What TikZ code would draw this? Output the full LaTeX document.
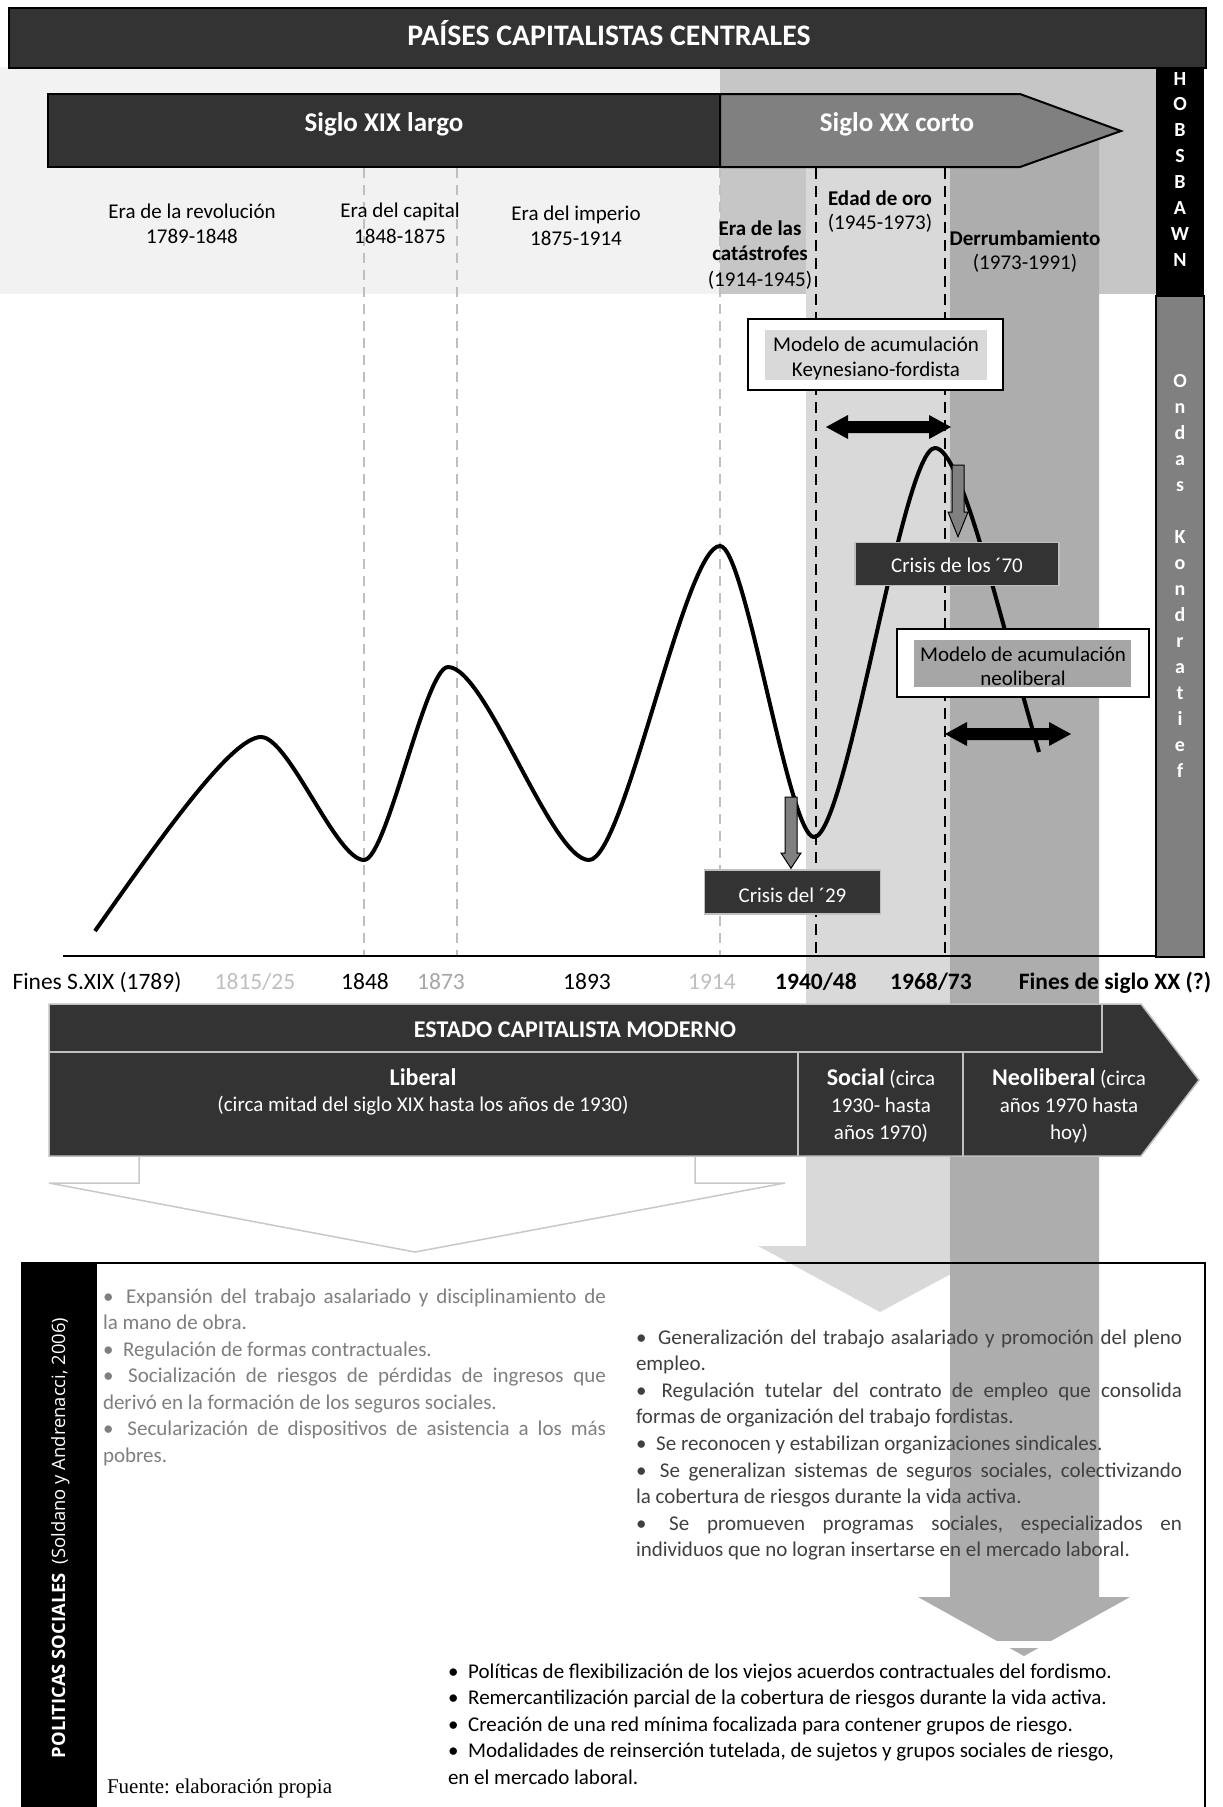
\documentclass[tikz,border=0pt]{standalone}
\usepackage{fontspec}
\setmainfont{Carlito}
\newfontfamily\opensans{Open Sans}
\newfontfamily\serifnote{Liberation Serif}
\usetikzlibrary{calc}
\frenchspacing

\definecolor{paleband}{HTML}{F2F2F2}
\definecolor{periodgray}{HTML}{C6C6C6}
\definecolor{goldband}{HTML}{D9D9D9}
\definecolor{crashband}{HTML}{ADADAD}
\definecolor{darkfill}{HTML}{333333}
\definecolor{midgray}{HTML}{808080}
\definecolor{edgegray}{HTML}{BFBFBF}
\definecolor{calloutgray}{HTML}{C8C8C8}
\definecolor{neogray}{HTML}{A6A6A6}
\definecolor{listone}{HTML}{7F7F7F}
\definecolor{listtwo}{HTML}{404040}
\definecolor{axislight}{HTML}{BFBFBF}
\definecolor{axismid}{HTML}{A6A6A6}

\newcommand\fsz[2]{\fontsize{#1}{#2}\selectfont}
\newcommand\bul{•\hspace{5pt} }
% black double-headed block arrow: left x, right x, y
\newcommand\dblarrow[3]{\fill[black] (#1,#3) -- ++(22,-12) -- ++(0,6) -- (#2-22,#3-6) -- ++(0,-6) -- (#2,#3) -- ++(-22,12) -- ++(0,-6) -- (#1+22,#3+6) -- ++(0,6) -- cycle;}

\begin{document}
\begin{tikzpicture}[x=1pt,y=-1pt,
  txt/.style={inner sep=0pt,outer sep=0pt},
  crisis/.style={fill=darkfill,draw=edgegray,line width=1.5,text=white,inner sep=0pt,font=\fsz{21}{25}},
  blockarrow/.style={fill=midgray,draw=black,line width=1},
  graydash/.style={draw=edgegray,line width=1.5,dash pattern=on 10pt off 7pt},
  blackdash/.style={draw=black,line width=2.2,dash pattern=on 11pt off 7pt},
  axislabel/.style={txt,anchor=base,font=\fsz{23.5}{26}}]

\useasboundingbox (0,0) rectangle (1223,1807);
\fill[white] (0,0) rectangle (1223,1807);

% period strip behind the century arrows
\fill[paleband] (0,67) rectangle (720,294);
\fill[periodgray] (720,67) rectangle (1156,294);

% golden-age and collapse bands, ending as downward arrows
\fill[goldband] (806,131) -- (950,131) -- (950,1246) -- (1003,1246) -- (880,1312) -- (758,1246) -- (806,1246) -- cycle;
\fill[crashband] (950,131) -- (1099,131) -- (1099,1597) -- (1130,1597) -- (1024,1656) -- (918,1597) -- (950,1597) -- cycle;
\fill[white] (900,1641) rectangle (1150,1648);

% title banner
\draw[fill=darkfill,line width=1.5] (9,8) rectangle (1206,68);
\node[txt,anchor=base,text=white] (title) at (609,45) {\fsz{29.8}{32}\bfseries PAÍSES CAPITALISTAS CENTRALES};

% side columns
\fill[black] (1156,68) rectangle (1204,296);
\node[txt,anchor=base,text=white] (hobs) at (1180,85)
  {\parbox[t]{40pt}{\centering\fsz{20}{25.86}\bfseries H\\O\\B\\S\\B\\A\\W\\N}};
\draw[fill=midgray,line width=1.5] (1156,296) rectangle (1204,957);
\node[txt,anchor=base,text=white] (kond) at (1180,387)
  {\parbox[t]{40pt}{\centering\fsz{20}{26}\bfseries O\\n\\d\\a\\s\\\mbox{}\\K\\o\\n\\d\\r\\a\\t\\i\\e\\f}};

% century arrows
\draw[fill=darkfill,line width=2] (48,94) rectangle (720,167);
\draw[fill=midgray,line width=2] (720,94) -- (1020,94) -- (1121,131) -- (1020,167) -- (720,167) -- cycle;
\node[txt,anchor=base,text=white] (s19) at (384,131) {\fsz{27}{30}\bfseries Siglo XIX largo};
\node[txt,anchor=base,text=white] (s20) at (897,131) {\fsz{27}{30}\bfseries Siglo XX corto};

% period dividers
\foreach \x in {364,457,720} \draw[graydash] (\x,168) -- (\x,955);
\foreach \x in {816,945} \draw[blackdash] (\x,168) -- (\x,955);

% period names
\node[txt,anchor=base] (era1) at (192,218) {\parbox[t]{240pt}{\centering\fsz{21}{25}Era de la revolución\\1789-1848}};
\node[txt,anchor=base] (era2) at (400,217) {\parbox[t]{200pt}{\centering\fsz{21}{26}Era del capital\\1848-1875}};
\node[txt,anchor=base] (era3) at (576,220) {\parbox[t]{200pt}{\centering\fsz{21}{25}Era del imperio\\1875-1914}};
\node[txt,anchor=base] (era4) at (760,235) {\parbox[t]{160pt}{\centering\fsz{21}{25.5}\textbf{Era de las}\\\textbf{catástrofes}\\(1914-1945)}};
\node[txt,anchor=base] (era5) at (880,205) {\parbox[t]{160pt}{\centering\fsz{21}{24}\textbf{Edad de oro}\\(1945-1973)}};
\node[txt,anchor=base] (era6) at (1025,245) {\parbox[t]{180pt}{\centering\fsz{21}{24.5}\textbf{Derrumbamiento}\\(1973-1991)}};

% long waves
\draw[line width=4,line join=round]
  (95,931) .. controls (164,833) and (232,737) .. (261,737)
  .. controls (288.8,737) and (336.2,860) .. (364,860)
  .. controls (386.7,860) and (425.3,667) .. (448,667)
  .. controls (486,667) and (551,860) .. (589,860)
  .. controls (624.4,860) and (684.6,546) .. (720,546)
  .. controls (745.4,546) and (788.6,837) .. (814,837)
  .. controls (846.7,837) and (902.3,448) .. (935,448)
  .. controls (961,448) and (997,608) .. (1039,752);

% accumulation models
\draw[fill=white,line width=2] (748,319) rectangle (1003,390);
\fill[goldband] (765,330) rectangle (987,380);
\node[txt,anchor=base] (keyn) at (876,351) {\parbox[t]{240pt}{\centering\fsz{21}{25}Modelo de acumulación\\Keynesiano-fordista}};
\draw[fill=white,line width=2] (897,629) rectangle (1149,697);
\fill[neogray] (914,640) rectangle (1131,687);
\node[txt,anchor=base] (neol) at (1023,661) {\parbox[t]{240pt}{\centering\fsz{21}{24}Modelo de acumulación\\neoliberal}};

\dblarrow{826}{951}{427}
\dblarrow{945}{1071}{734}

% crises
\node[crisis,minimum width=176,minimum height=44,text height=20,text depth=0] (c29) at (792.5,892) {Crisis del ´29};
\node[crisis,minimum width=204,minimum height=43,text height=17,text depth=0] (c70) at (957,564) {Crisis de los ´70};
\draw[blockarrow] (785,797) -- (797,797) -- (797,853) -- (801,853) -- ([xshift=-1.5pt,yshift=1pt]c29.north) -- (781,853) -- (785,853) -- cycle;
\draw[blockarrow] (952,465) -- (964,465) -- (964,512) -- (968,512) -- ([xshift=1pt,yshift=5pt]c70.north) -- (948,512) -- (952,512) -- cycle;

% time axis
\draw[line width=2.2] (63,956) -- (1156,956);
\node[axislabel] (t0) at (97,989) {Fines S.XIX (1789)};
\node[axislabel,text=axislight] (t1) at (255,989) {1815/25};
\node[axislabel] (t2) at (365,989) {1848};
\node[axislabel,text=axismid] (t3) at (441,989) {1873};
\node[axislabel] (t4) at (587,989) {1893};
\node[axislabel,text=axislight] (t5) at (712,989) {1914};
\node[axislabel,font=\fsz{23.5}{26}\bfseries] (t6) at (816,989) {1940/48};
\node[axislabel,font=\fsz{23.5}{26}\bfseries] (t7) at (931,989) {1968/73};
\node[axislabel,font=\fsz{23.5}{26}\bfseries] (t8) at (1115,989) {Fines de siglo XX (?)};

% modern capitalist state
\draw[fill=darkfill,draw=edgegray,line width=1.5] (49,1004) -- (1141,1004) -- (1199,1080) -- (1141,1156) -- (49,1156) -- cycle;
\draw[edgegray,line width=1.5] (49,1052) -- (1102,1052) -- (1102,1004);
\draw[edgegray,line width=1.5] (798,1052) -- (798,1156);
\draw[edgegray,line width=1.5] (963,1052) -- (963,1156);
\node[txt,anchor=base,text=white] (estado) at (575,1037) {\fsz{24}{26}\bfseries ESTADO CAPITALISTA MODERNO};
\node[txt,anchor=base,text=white] (liberal) at (423,1085)
  {\parbox[t]{600pt}{\centering\fsz{21}{26}{\fsz{24}{26}\bfseries Liberal}\\(circa mitad del siglo XIX hasta los años de 1930)}};
\node[txt,anchor=base,text=white] (social) at (881,1085)
  {\parbox[t]{160pt}{\centering\fsz{21}{27}{\fsz{24}{27}\bfseries Social} (circa\\1930- hasta\\años 1970)}};
\node[txt,anchor=base,text=white] (neolib) at (1069,1085)
  {\parbox[t]{200pt}{\centering\fsz{21}{27}{\fsz{24}{27}\bfseries Neoliberal} (circa\\años 1970 hasta\\hoy)}};

% outline arrow under the liberal state
\draw[calloutgray,line width=1.5] (139,1157) -- (139,1183) -- (49,1183) -- (415,1252) -- (785,1183) -- (695,1183) -- (695,1157);

% social policies frame
\fill[black] (21,1263) rectangle (97,1810);
\draw[line width=2] (21,1263) -- (1205,1263) -- (1205,1810);
\node[txt,rotate=90,anchor=base west,text=white] (poltitle) at (65,1758)
  {\opensans\fsz{18.4}{20}\textbf{POLITICAS SOCIALES}\hspace{9pt}(Soldano y Andrenacci, 2006)};

% policy lists
\node[txt,anchor=base west,text=listone] (pol1) at (103,1303)
  {\parbox[t]{503pt}{\fsz{21}{26.5}\hyphenpenalty=10000\tolerance=10000
  \bul Expansión del trabajo asalariado y disciplinamiento de\linebreak la mano de obra.\par
  \bul Regulación de formas contractuales.\par
  \bul Socialización de riesgos de pérdidas de ingresos que\linebreak derivó en la formación de los seguros sociales.\par
  \bul Secularización de dispositivos de asistencia a los más\linebreak pobres.}};

\node[txt,anchor=base west,text=listtwo] (pol2) at (636,1344)
  {\parbox[t]{546pt}{\fsz{21}{26.6}\hyphenpenalty=10000\tolerance=10000
  \bul Generalización del trabajo asalariado y promoción del pleno\linebreak empleo.\par
  \bul Regulación tutelar del contrato de empleo que consolida\linebreak formas de organización del trabajo fordistas.\par
  \bul Se reconocen y estabilizan organizaciones sindicales.\par
  \bul Se generalizan sistemas de seguros sociales, colectivizando\linebreak la cobertura de riesgos durante la vida activa.\par
  \bul Se promueven programas sociales, especializados en\linebreak individuos que no logran insertarse en el mercado laboral.}};

\node[txt,anchor=base west] (pol3) at (448,1678)
  {\parbox[t]{760pt}{\raggedright\fsz{21}{26.6}
  \bul Políticas de flexibilización de los viejos acuerdos contractuales del fordismo.\\
  \bul Remercantilización parcial de la cobertura de riesgos durante la vida activa.\\
  \bul Creación de una red mínima focalizada para contener grupos de riesgo.\\
  \bul Modalidades de reinserción tutelada, de sujetos y grupos sociales de riesgo,\\
  en el mercado laboral.}};

\node[txt,anchor=base west] (source) at (107,1793) {\serifnote\fsz{21}{24}Fuente: elaboración propia};

\end{tikzpicture}
\end{document}
